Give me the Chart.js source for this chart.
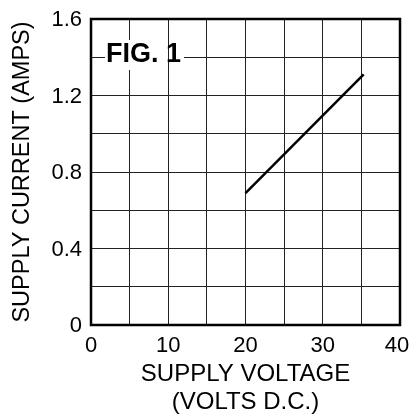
<!DOCTYPE html>
<html>
<head>
<meta charset="utf-8">
<script src="https://cdn.jsdelivr.net/npm/chart.js@4/dist/chart.umd.min.js"></script>
<style>
  html, body { margin: 0; padding: 0; background: #fff; }
  #wrap { width: 409px; height: 416px; }
</style>
</head>
<body>
<div id="wrap"><canvas id="chart"></canvas></div>
<script>
/* ================= DATA ================= */
const voltage = [20, 35.3];
const current = [0.69, 1.31];

// last x label carries a no-break space so it sits inside the frame like the original
const xTickLabels = ["0", "", "10", "", "20", "", "30", "", "40\u00a0"];
const yTickLabels = ["0", "", "0.4", "", "0.8", "", "1.2", "", "1.6"];

const xTitle = ["SUPPLY VOLTAGE", "(VOLTS D.C.)"];
const yTitle = "SUPPLY CURRENT (AMPS)";
const figLabel = "FIG. 1";

const FONT = "'Liberation Sans', Arial, Helvetica, sans-serif";

/* ================= PLUGINS ================= */
const frameBox = {
  id: "frameBox",
  afterDatasetsDraw(chart) {
    const { ctx, chartArea: a } = chart;
    ctx.save();
    ctx.strokeStyle = "#000";
    ctx.lineWidth = 2.5;
    ctx.strokeRect(a.left, a.top, a.right - a.left, a.bottom - a.top);
    ctx.restore();
  }
};

const figText = {
  id: "figText",
  afterDraw(chart) {
    const { ctx } = chart;
    ctx.save();
    ctx.fillStyle = "#fff";
    ctx.fillRect(105, 40, 57, 30);
    ctx.fillRect(105, 43, 79, 21);

    // the 10 V grid line stays visible between "." and "1"
    const gx = Math.round(chart.scales.x.getPixelForValue(10)) + 0.5;
    ctx.strokeStyle = "#222";
    ctx.lineWidth = 1;
    ctx.beginPath();
    ctx.moveTo(gx, 42);
    ctx.lineTo(gx, 65);
    ctx.stroke();

    ctx.fillStyle = "#000";
    ctx.font = "bold 27px " + FONT;
    ctx.textBaseline = "alphabetic";
    ctx.textAlign = "left";
    ctx.fillText(figLabel, 106, 62);
    ctx.restore();
  }
};

/* ================= CHART ================= */
new Chart(document.getElementById("chart"), {
  type: "scatter",
  data: {
    datasets: [{
      data: voltage.map((v, i) => ({ x: v, y: current[i] })),
      showLine: true,
      borderColor: "#000",
      borderWidth: 2.5,
      pointRadius: 0,
      fill: false
    }]
  },
  options: {
    responsive: true,
    maintainAspectRatio: false,
    animation: false,
    layout: { padding: { top: 19, right: 9, left: 0, bottom: 0 } },
    plugins: { legend: { display: false }, tooltip: { enabled: false } },
    scales: {
      x: {
        type: "linear",
        min: 0,
        max: 40,
        afterFit: s => { s.height = 91; s.paddingLeft = 0; s.paddingRight = 0; },
        grid: { color: "#222", lineWidth: 1, drawTicks: false },
        border: { display: false },
        ticks: {
          stepSize: 5,
          padding: 8,
          maxRotation: 0,
          autoSkip: false,
          color: "#000",
          font: { family: FONT, size: 22 },
          callback: (v, i) => xTickLabels[i]
        },
        title: {
          display: true,
          text: xTitle,
          color: "#000",
          font: { family: FONT, size: 24, lineHeight: 1.17 },
          padding: { top: 0, bottom: 0 }
        }
      },
      y: {
        min: 0,
        max: 1.6,
        afterFit: s => { s.width = 91; s.paddingTop = 0; s.paddingBottom = 0; },
        grid: { color: "#222", lineWidth: 1, drawTicks: false },
        border: { display: false },
        ticks: {
          stepSize: 0.2,
          padding: 9,
          labelOffset: 1,
          autoSkip: false,
          color: "#000",
          font: { family: FONT, size: 22 },
          callback: (v, i) => yTickLabels[i]
        },
        title: {
          display: true,
          text: yTitle,
          color: "#000",
          font: { family: FONT, size: 23.5 },
          padding: { top: 8, bottom: 0 }
        }
      }
    }
  },
  plugins: [frameBox, figText]
});
</script>
</body>
</html>
